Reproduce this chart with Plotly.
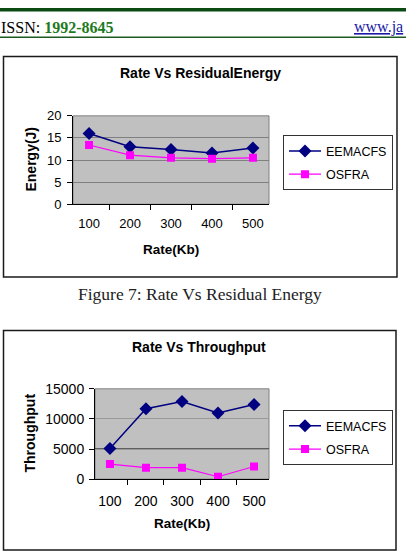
import plotly.graph_objects as go

W, H = 406, 560

rates = ["100", "200", "300", "400", "500"]
energy_eemacfs = [16.0, 13.0, 12.4, 11.6, 12.7]
energy_osfra = [13.4, 11.1, 10.5, 10.3, 10.5]
thr_eemacfs = [5100, 11700, 12900, 11000, 12400]
thr_osfra = [2500, 1900, 1900, 400, 2100]

NAVY = "#000080"
MAG = "#FF00FF"
SANS = "Liberation Sans, Arial, sans-serif"
SERIF = "Liberation Serif, Times New Roman, serif"


def px(x):
    return x / W


def py(y):
    return 1 - y / H


fig = go.Figure()

# Chart 1
fig.add_trace(go.Scatter(x=rates, y=energy_eemacfs, name="EEMACFS", mode="lines+markers",
                         line=dict(color=NAVY, width=1.5),
                         marker=dict(symbol="diamond", size=10, color=NAVY),
                         xaxis="x", yaxis="y", legend="legend", legendgroup="a"))
fig.add_trace(go.Scatter(x=rates, y=energy_osfra, name="OSFRA", mode="lines+markers",
                         line=dict(color=MAG, width=1.2),
                         marker=dict(symbol="square", size=8, color=MAG),
                         xaxis="x", yaxis="y", legend="legend", legendgroup="b"))
# Chart 2
fig.add_trace(go.Scatter(x=rates, y=thr_eemacfs, name="EEMACFS", mode="lines+markers",
                         line=dict(color=NAVY, width=1.5),
                         marker=dict(symbol="diamond", size=10, color=NAVY),
                         xaxis="x2", yaxis="y2", legend="legend2", legendgroup="c"))
fig.add_trace(go.Scatter(x=rates, y=thr_osfra, name="OSFRA", mode="lines+markers",
                         line=dict(color=MAG, width=1.2),
                         marker=dict(symbol="square", size=8, color=MAG),
                         xaxis="x2", yaxis="y2", legend="legend2", legendgroup="d"))

xcommon = dict(type="category", tickson="boundaries", ticks="outside", ticklen=5,
               tickcolor="black", showline=True, linecolor="black", linewidth=1,
               showgrid=False, zeroline=False, fixedrange=True)
ycommon = dict(ticks="outside", ticklen=5, tickcolor="black", showline=True,
               linecolor="black", linewidth=1, zeroline=False, fixedrange=True,
               tickformat="d")

legcommon = dict(xanchor="left", yanchor="top", bgcolor="white", bordercolor="#333333",
                 borderwidth=1, font=dict(family=SANS, size=12.5, color="black"),
                 tracegroupgap=4, itemwidth=32)

fig.update_layout(
    width=W, height=H, margin=dict(l=0, r=0, t=0, b=0),
    paper_bgcolor="white", plot_bgcolor="#c0c0c0", showlegend=True,
    xaxis=dict(domain=[px(73), px(269)], anchor="y", ticklabelstandoff=7,
               tickfont=dict(family=SANS, size=13, color="black"), **xcommon),
    yaxis=dict(domain=[py(202), py(111)], anchor="x", range=[0, 20], dtick=5,
               gridcolor="#808080", gridwidth=1, ticklabelstandoff=3,
               tickfont=dict(family=SANS, size=13, color="black"), **ycommon),
    xaxis2=dict(domain=[px(95), px(269)], anchor="y2", ticklabelstandoff=9,
                tickfont=dict(family=SANS, size=14, color="black"), **xcommon),
    yaxis2=dict(domain=[py(485), py(392)], anchor="x2", range=[0, 15000], dtick=5000,
                gridcolor="#999999", gridwidth=1, ticklabelstandoff=2,
                tickfont=dict(family=SANS, size=14, color="black"), **ycommon),
    legend=dict(x=px(283), y=py(131), **legcommon),
    legend2=dict(x=px(283), y=py(414), **legcommon),
)

shapes = [
    # header bar and rule
    dict(type="rect", xref="paper", yref="paper", x0=0, x1=1, y0=py(0), y1=py(3.5),
         fillcolor="#0b4a12", line=dict(width=0)),
    dict(type="line", xref="paper", yref="paper", x0=0, x1=1, y0=py(30), y1=py(30),
         line=dict(color="#1d5a22", width=1.5)),
    # chart frames
    dict(type="rect", xref="paper", yref="paper", x0=px(3.5), x1=px(397), y0=py(50), y1=py(277),
         line=dict(color="#1a1a1a", width=1.5)),
    dict(type="rect", xref="paper", yref="paper", x0=px(3.5), x1=px(396), y0=py(332), y1=py(558),
         line=dict(color="#1a1a1a", width=1.5)),
    # plot-area borders
    dict(type="rect", xref="x domain", yref="y domain", x0=0, x1=1, y0=0, y1=1,
         line=dict(color="#808080", width=1), layer="below"),
    dict(type="rect", xref="x2 domain", yref="y2 domain", x0=0, x1=1, y0=0, y1=1,
         line=dict(color="#808080", width=1), layer="below"),
    # dark gridline at 5000 in chart 2
    dict(type="line", xref="x2 domain", yref="y2", x0=0, x1=1, y0=5000, y1=5000,
         line=dict(color="black", width=1.2), layer="below"),
]
fig.update_layout(shapes=shapes)

ann = [
    dict(text="ISSN: <b><span style='color:#1e7a1e'>1992-8645</span></b>", x=px(-1), y=py(20),
         xanchor="left", yanchor="middle", font=dict(family=SERIF, size=16, color="black")),
    dict(text="<u>www.ja</u>", x=px(405), y=py(20), xanchor="right", yanchor="middle",
         font=dict(family=SERIF, size=16, color="#1a1aa6")),
    dict(text="<b>Rate Vs ResidualEnergy</b>", x=px(200), y=py(67), xanchor="center",
         yanchor="middle", font=dict(family=SANS, size=14, color="black")),
    dict(text="<b>Rate(Kb)</b>", x=px(171), y=py(249), xanchor="center", yanchor="middle",
         font=dict(family=SANS, size=13.5, color="black")),
    dict(text="<b>Energy(J)</b>", x=px(31), y=py(156), xanchor="center", yanchor="middle",
         textangle=-90, font=dict(family=SANS, size=14, color="black")),
    dict(text="Figure 7: Rate Vs Residual Energy", x=px(200), y=py(294), xanchor="center",
         yanchor="middle", font=dict(family=SERIF, size=17.5, color="#222222")),
    dict(text="<b>Rate Vs Throughput</b>", x=px(199), y=py(349), xanchor="center",
         yanchor="middle", font=dict(family=SANS, size=14, color="black")),
    dict(text="<b>Rate(Kb)</b>", x=px(182), y=py(531), xanchor="center", yanchor="middle",
         font=dict(family=SANS, size=13.5, color="black")),
    dict(text="<b>Throughput</b>", x=px(30), y=py(438), xanchor="center", yanchor="middle",
         textangle=-90, font=dict(family=SANS, size=14, color="black")),
]
for a in ann:
    a.update(xref="paper", yref="paper", showarrow=False)
fig.update_layout(annotations=ann)

fig.write_html("out.html", config={"displayModeBar": False})
